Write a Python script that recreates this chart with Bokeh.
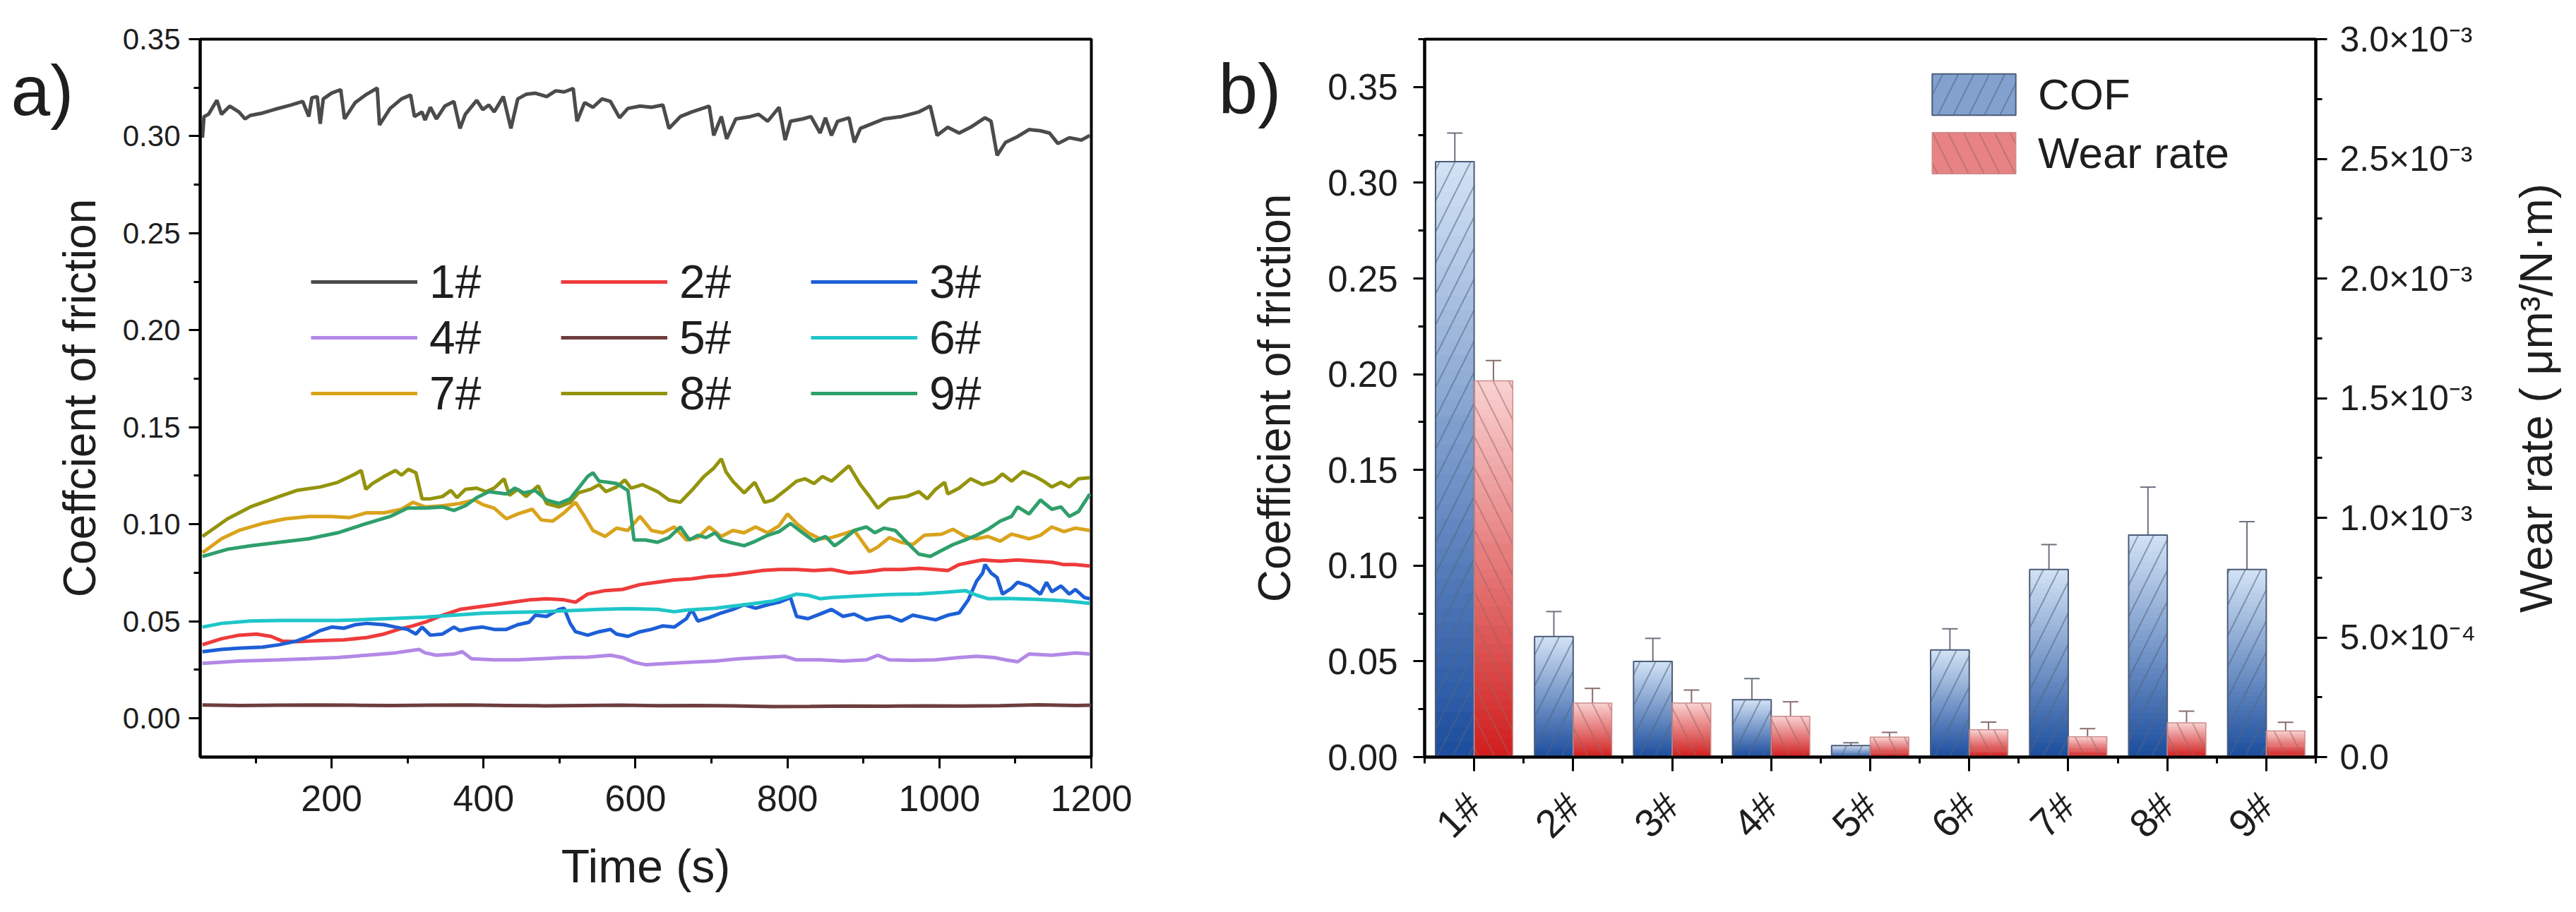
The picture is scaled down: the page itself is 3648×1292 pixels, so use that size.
import numpy as np
from bokeh.plotting import figure
from bokeh.layouts import row
from bokeh.models import (ColumnDataSource, Range1d, LinearAxis, FixedTicker,
                          NumeralTickFormatter, CustomJSTickFormatter, Legend,
                          LegendItem, Label, Whisker, TeeHead)
from bokeh.embed import file_html
from bokeh.resources import INLINE

# ---------------- panel a) : coefficient of friction vs time ----------------
t1 = [30, 32, 38, 49, 55, 66, 78, 86, 93, 109, 124, 147, 162, 170, 174, 181, 185, 189, 200, 212,
      217, 231, 246, 260, 263, 277, 292, 304, 309, 319, 323, 330, 338, 349, 361, 369, 376, 391, 399, 407,
      414, 426, 436, 445, 456, 468, 483, 495, 506, 518, 523, 533, 544, 556, 567, 579, 590, 606, 621, 636,
      644, 659, 674, 697, 703, 713, 720, 732, 751, 762, 774, 789, 797, 804, 820, 831, 843, 850, 858, 866,
      881, 888, 896, 911, 927, 950, 973, 988, 997, 1011, 1026, 1041, 1060, 1068, 1076, 1087, 1103, 1118, 1133, 1145,
      1156, 1171, 1187, 1198]
cof1 = [0.2992, 0.3101, 0.3113, 0.3185, 0.3113, 0.3155, 0.3125, 0.3089, 0.3107, 0.3119,
        0.3137, 0.3161, 0.3179, 0.3101, 0.3198, 0.3204, 0.3064, 0.3192, 0.3222, 0.3240,
        0.3089, 0.3173, 0.3216, 0.3248, 0.3058, 0.3143, 0.3192, 0.3212, 0.3101, 0.3125,
        0.3083, 0.3149, 0.3089, 0.3155, 0.3179, 0.3040, 0.3113, 0.3185, 0.3137, 0.3161,
        0.3125, 0.3204, 0.3040, 0.3192, 0.3216, 0.3222, 0.3204, 0.3234, 0.3228, 0.3246,
        0.3077, 0.3173, 0.3149, 0.3192, 0.3179, 0.3095, 0.3143, 0.3155, 0.3149, 0.3161,
        0.3040, 0.3101, 0.3125, 0.3155, 0.3004, 0.3101, 0.2986, 0.3089, 0.3101, 0.3113,
        0.3077, 0.3149, 0.2980, 0.3077, 0.3089, 0.3101, 0.3016, 0.3095, 0.3004, 0.3077,
        0.3095, 0.2968, 0.3040, 0.3064, 0.3089, 0.3101, 0.3125, 0.3155, 0.3004, 0.3046,
        0.3016, 0.3046, 0.3095, 0.3077, 0.2901, 0.2968, 0.2998, 0.3034, 0.3028, 0.3016,
        0.2962, 0.2992, 0.2980, 0.3004]

t2 = [30, 55, 78, 101, 120, 135, 154, 185, 216, 246, 269, 288, 307, 323, 346, 369, 391, 414, 437, 460,
      483, 506, 521, 537, 560, 583, 606, 629, 651, 674, 697, 720, 743, 766, 789, 812, 835, 858, 881, 904,
      927, 950, 973, 995, 1011, 1026, 1041, 1057, 1080, 1103, 1126, 1148, 1164, 1179, 1198]
cof2 = [0.0379, 0.0410, 0.0428, 0.0434, 0.0422, 0.0398, 0.0395, 0.0400, 0.0404, 0.0416,
        0.0434, 0.0458, 0.0476, 0.0495, 0.0531, 0.0561, 0.0573, 0.0585, 0.0598, 0.0610,
        0.0616, 0.0610, 0.0598, 0.0640, 0.0658, 0.0664, 0.0689, 0.0701, 0.0713, 0.0719,
        0.0731, 0.0737, 0.0749, 0.0761, 0.0767, 0.0767, 0.0761, 0.0767, 0.0749, 0.0755,
        0.0767, 0.0767, 0.0773, 0.0767, 0.0761, 0.0792, 0.0804, 0.0816, 0.0810, 0.0816,
        0.0810, 0.0804, 0.0792, 0.0792, 0.0785]

t3 = [30, 55, 78, 109, 131, 154, 170, 185, 200, 216, 231, 246, 269, 284, 300, 311, 319, 330, 346, 361,
      369, 384, 399, 414, 430, 445, 460, 468, 483, 499, 506, 514, 521, 537, 552, 567, 575, 590, 606, 621,
      636, 651, 667, 674, 682, 697, 713, 728, 743, 758, 774, 789, 804, 812, 827, 843, 858, 873, 888, 904,
      919, 934, 950, 965, 980, 995, 1011, 1026, 1038, 1049, 1057, 1060, 1068, 1076, 1083, 1095, 1103, 1118, 1133, 1141,
      1148, 1160, 1171, 1179, 1191, 1198]
cof3 = [0.0343, 0.0355, 0.0361, 0.0367, 0.0379, 0.0398, 0.0422, 0.0452, 0.0470, 0.0464,
        0.0482, 0.0489, 0.0482, 0.0470, 0.0458, 0.0434, 0.0470, 0.0428, 0.0434, 0.0470,
        0.0452, 0.0464, 0.0470, 0.0458, 0.0458, 0.0482, 0.0495, 0.0531, 0.0525, 0.0561,
        0.0567, 0.0489, 0.0446, 0.0428, 0.0446, 0.0458, 0.0434, 0.0422, 0.0446, 0.0458,
        0.0476, 0.0470, 0.0513, 0.0561, 0.0501, 0.0519, 0.0543, 0.0561, 0.0585, 0.0567,
        0.0585, 0.0598, 0.0622, 0.0525, 0.0513, 0.0537, 0.0561, 0.0525, 0.0537, 0.0507,
        0.0519, 0.0525, 0.0501, 0.0531, 0.0519, 0.0507, 0.0531, 0.0543, 0.0610, 0.0707,
        0.0749, 0.0792, 0.0749, 0.0725, 0.0640, 0.0670, 0.0701, 0.0682, 0.0640, 0.0701,
        0.0652, 0.0682, 0.0640, 0.0664, 0.0622, 0.0616]

t4 = [30, 78, 131, 170, 208, 246, 284, 315, 323, 338, 361, 372, 384, 414, 445, 476, 506, 537, 567, 583,
      598, 613, 644, 674, 705, 736, 766, 797, 812, 843, 873, 904, 919, 934, 965, 995, 1026, 1049, 1072, 1087,
      1103, 1118, 1148, 1179, 1198]
cof4 = [0.0283, 0.0295, 0.0301, 0.0307, 0.0313, 0.0325, 0.0337, 0.0355, 0.0337, 0.0325,
        0.0331, 0.0343, 0.0307, 0.0301, 0.0301, 0.0307, 0.0313, 0.0315, 0.0325, 0.0313,
        0.0289, 0.0276, 0.0283, 0.0289, 0.0295, 0.0307, 0.0313, 0.0319, 0.0301, 0.0301,
        0.0295, 0.0301, 0.0325, 0.0301, 0.0298, 0.0301, 0.0313, 0.0319, 0.0313, 0.0301,
        0.0291, 0.0331, 0.0325, 0.0337, 0.0331]

t5 = [30, 80, 130, 180, 230, 280, 330, 380, 430, 480, 530, 580, 630, 680, 730, 780, 830, 880, 930, 980,
      1030, 1080, 1130, 1180, 1200]
cof5 = [0.0068, 0.0066, 0.0067, 0.0068, 0.0067, 0.0066, 0.0067, 0.0068, 0.0066, 0.0064,
        0.0066, 0.0067, 0.0065, 0.0066, 0.0064, 0.0060, 0.0061, 0.0063, 0.0062, 0.0064,
        0.0063, 0.0065, 0.0069, 0.0066, 0.0067]

t6 = [30, 55, 93, 131, 170, 208, 246, 284, 323, 361, 399, 437, 476, 514, 552, 590, 629, 651, 667, 705,
      743, 781, 797, 812, 827, 843, 858, 896, 934, 973, 1011, 1034, 1049, 1064, 1087, 1126, 1164, 1198]
cof6 = [0.0470, 0.0489, 0.0501, 0.0504, 0.0504, 0.0504, 0.0509, 0.0515, 0.0521, 0.0531,
        0.0541, 0.0546, 0.0549, 0.0555, 0.0561, 0.0565, 0.0561, 0.0549, 0.0558, 0.0567,
        0.0585, 0.0604, 0.0622, 0.0640, 0.0634, 0.0616, 0.0622, 0.0630, 0.0638, 0.0640,
        0.0650, 0.0658, 0.0634, 0.0616, 0.0618, 0.0613, 0.0606, 0.0592]

t7 = [30, 55, 78, 109, 139, 170, 200, 223, 246, 269, 292, 307, 323, 346, 369, 388, 399, 414, 430, 445,
      464, 476, 491, 506, 521, 533, 544, 560, 575, 590, 606, 621, 636, 651, 667, 682, 697, 713, 728, 743,
      758, 774, 789, 800, 812, 827, 843, 858, 873, 888, 908, 919, 934, 950, 965, 980, 1003, 1018, 1034, 1049,
      1064, 1080, 1095, 1118, 1133, 1148, 1164, 1179, 1198]
cof7 = [0.0853, 0.0925, 0.0968, 0.1004, 0.1028, 0.1040, 0.1040, 0.1034, 0.1059, 0.1059,
        0.1077, 0.1113, 0.1089, 0.1095, 0.1107, 0.1125, 0.1101, 0.1083, 0.1028, 0.1053,
        0.1077, 0.1022, 0.1016, 0.1059, 0.1113, 0.1040, 0.0968, 0.0937, 0.0980, 0.0968,
        0.1040, 0.0968, 0.0956, 0.0986, 0.0919, 0.0931, 0.0986, 0.0937, 0.0968, 0.0956,
        0.0986, 0.0956, 0.0992, 0.1053, 0.1004, 0.0956, 0.0925, 0.0931, 0.0949, 0.0968,
        0.0859, 0.0883, 0.0931, 0.0907, 0.0895, 0.0943, 0.0949, 0.0974, 0.0937, 0.0925,
        0.0937, 0.0913, 0.0949, 0.0925, 0.0943, 0.0986, 0.0962, 0.0980, 0.0968]

t8 = [30, 63, 93, 131, 154, 185, 208, 231, 239, 245, 254, 269, 284, 292, 301, 311, 319, 330, 346, 357,
      365, 376, 391, 403, 414, 427, 434, 445, 456, 472, 483, 499, 514, 525, 541, 552, 561, 575, 586, 594,
      609, 629, 644, 659, 674, 690, 703, 713, 719, 728, 743, 757, 770, 781, 797, 812, 823, 835, 846, 858,
      881, 896, 908, 919, 934, 957, 973, 984, 995, 1007, 1011, 1026, 1041, 1057, 1072, 1083, 1095, 1110, 1126, 1137,
      1148, 1160, 1171, 1183, 1198]
cof8 = [0.0937, 0.1028, 0.1089, 0.1143, 0.1174, 0.1192, 0.1216, 0.1259, 0.1277, 0.1180,
        0.1210, 0.1246, 0.1277, 0.1253, 0.1283, 0.1265, 0.1131, 0.1131, 0.1143, 0.1174,
        0.1137, 0.1180, 0.1186, 0.1168, 0.1186, 0.1234, 0.1149, 0.1180, 0.1143, 0.1198,
        0.1107, 0.1089, 0.1113, 0.1162, 0.1180, 0.1204, 0.1168, 0.1192, 0.1228, 0.1186,
        0.1204, 0.1168, 0.1125, 0.1113, 0.1174, 0.1246, 0.1289, 0.1337, 0.1271, 0.1222,
        0.1162, 0.1216, 0.1113, 0.1125, 0.1174, 0.1222, 0.1234, 0.1210, 0.1246, 0.1222,
        0.1301, 0.1204, 0.1143, 0.1083, 0.1131, 0.1143, 0.1168, 0.1131, 0.1180, 0.1216,
        0.1156, 0.1186, 0.1234, 0.1204, 0.1222, 0.1259, 0.1222, 0.1271, 0.1246, 0.1222,
        0.1192, 0.1216, 0.1192, 0.1234, 0.1240]

t9 = [30, 63, 93, 131, 170, 208, 246, 277, 300, 323, 346, 361, 376, 391, 407, 430, 441, 453, 468, 483,
      499, 514, 525, 537, 544, 552, 564, 575, 590, 598, 613, 629, 644, 659, 671, 682, 693, 705, 713, 724,
      743, 758, 774, 789, 804, 820, 835, 850, 862, 873, 888, 904, 915, 927, 942, 957, 973, 988, 1003, 1018,
      1034, 1049, 1064, 1080, 1095, 1103, 1118, 1133, 1148, 1160, 1171, 1183, 1198]
cof9 = [0.0834, 0.0871, 0.0889, 0.0907, 0.0925, 0.0956, 0.1004, 0.1040, 0.1083, 0.1083,
        0.1089, 0.1071, 0.1095, 0.1137, 0.1168, 0.1156, 0.1186, 0.1162, 0.1174, 0.1125,
        0.1107, 0.1131, 0.1186, 0.1246, 0.1265, 0.1222, 0.1216, 0.1210, 0.1174, 0.0919,
        0.0919, 0.0907, 0.0931, 0.0986, 0.0919, 0.0943, 0.0931, 0.0956, 0.0919, 0.0907,
        0.0889, 0.0913, 0.0943, 0.0962, 0.1004, 0.0956, 0.0913, 0.0937, 0.0889, 0.0919,
        0.0968, 0.0986, 0.0956, 0.0980, 0.0968, 0.0907, 0.0846, 0.0834, 0.0865, 0.0895,
        0.0919, 0.0943, 0.0974, 0.1016, 0.1040, 0.1089, 0.1053, 0.1125, 0.1077, 0.1089,
        0.1040, 0.1065, 0.1156]

sample_names = ["1#", "2#", "3#", "4#", "5#", "6#", "7#", "8#", "9#"]
line_times = [t1, t2, t3, t4, t5, t6, t7, t8, t9]
line_cofs = [cof1, cof2, cof3, cof4, cof5, cof6, cof7, cof8, cof9]
line_colors = ["#4b4b4b", "#ee3b3b", "#1d5fd6", "#b388e6", "#6e3d3d",
               "#1fc6c8", "#d9a31c", "#94940e", "#2f9f6c"]

# ---------------- panel b) : mean COF and wear rate ----------------
cof_mean = [0.311, 0.063, 0.050, 0.030, 0.006, 0.056, 0.098, 0.116, 0.098]
cof_err = [0.015, 0.013, 0.012, 0.011, 0.0015, 0.011, 0.013, 0.025, 0.025]
wear_mean = [1.572e-3, 2.26e-4, 2.26e-4, 1.70e-4, 8.3e-5, 1.14e-4, 8.5e-5, 1.43e-4, 1.09e-4]
wear_err = [8.5e-5, 6.1e-5, 5.4e-5, 6.1e-5, 2.0e-5, 3.2e-5, 3.4e-5, 4.9e-5, 3.6e-5]

time_ticks = [200, 400, 600, 800, 1000, 1200]
cof_ticks = [0.0, 0.05, 0.10, 0.15, 0.20, 0.25, 0.30, 0.35]
wear_ticks = [0.0, 0.0005, 0.001, 0.0015, 0.002, 0.0025, 0.003]
wear_tick_labels = ["0.0", "5.0×10⁻⁴", "1.0×10⁻³", "1.5×10⁻³", "2.0×10⁻³",
                    "2.5×10⁻³", "3.0×10⁻³"]

FONT = "Liberation Sans"
NARROW = "'Liberation Sans Narrow', 'Liberation Sans'"
TXT = "#1e1e1e"


def style_axis(ax, size, font=FONT):
    ax.axis_line_width = 4
    ax.axis_line_color = "black"
    ax.major_tick_line_width = 3
    ax.minor_tick_line_width = 3
    ax.major_tick_in = 0
    ax.major_tick_out = 16
    ax.minor_tick_in = 0
    ax.minor_tick_out = 9
    ax.major_label_text_font = font
    ax.major_label_text_font_size = size
    ax.major_label_text_color = TXT
    ax.axis_label_text_font = FONT
    ax.axis_label_text_font_style = "normal"
    ax.axis_label_text_color = TXT


def frame_style(p):
    p.xgrid.visible = False
    p.ygrid.visible = False
    p.outline_line_color = "black"
    p.outline_line_width = 4
    p.outline_line_alpha = 1
    p.background_fill_color = "white"
    p.border_fill_color = "white"


def panel_tag(text, x, y):
    return Label(x=x, y=y, x_units="screen", y_units="screen", text=text,
                 text_font=FONT, text_font_size="100px", text_color=TXT,
                 text_baseline="alphabetic")


# ---------------- figure a ----------------
p1 = figure(width=1657, height=1276, x_range=Range1d(27, 1200), y_range=Range1d(-0.02, 0.35),
            output_backend="svg", toolbar_location=None,
            min_border_left=283, min_border_right=112, min_border_top=55, min_border_bottom=204)
frame_style(p1)

items = []
for name, tt, vv, col in zip(sample_names, line_times, line_cofs, line_colors):
    src = ColumnDataSource(dict(t=tt, cof=vv))
    r = p1.line("t", "cof", source=src, line_color=col, line_width=5)
    items.append(LegendItem(label=name, renderers=[r]))

p1.xaxis.ticker = FixedTicker(ticks=time_ticks, minor_ticks=list(range(100, 1200, 100)))
p1.yaxis.ticker = FixedTicker(ticks=cof_ticks, minor_ticks=list(np.round(np.arange(0.025, 0.35, 0.05), 3)))
p1.yaxis.formatter = NumeralTickFormatter(format="0.00")
style_axis(p1.xaxis[0], "52px", NARROW)
style_axis(p1.yaxis[0], "42px")
p1.xaxis.axis_label = "Time (s)"
p1.xaxis.axis_label_text_font_size = "66px"
p1.xaxis.major_label_standoff = 24
p1.xaxis.axis_label_standoff = 38
p1.yaxis.axis_label = "Coeffcient of friction"
p1.yaxis.axis_label_text_font_size = "64px"
p1.yaxis.major_label_standoff = 12
p1.yaxis.axis_label_standoff = 22

leg1 = Legend(items=items, orientation="horizontal", ncols=3, location=(157, 477),
              glyph_width=151, glyph_height=50, label_height=50, label_width=183,
              label_standoff=17, spacing=3, padding=0, margin=0,
              label_text_font=FONT, label_text_font_size="66px", label_text_color=TXT,
              border_line_alpha=0, background_fill_alpha=0)
p1.add_layout(leg1)
# panel tag in the (empty) right side panel so that it is not clipped to the frame
p1.add_layout(panel_tag("a)", -1530, 945), "right")

# ---------------- figure b ----------------
BAR_W = 0.39
N_SLICES = 40
xs = np.arange(1, len(sample_names) + 1)
x_cof = xs - BAR_W / 2
x_wear = xs + BAR_W / 2


def hex_rgb(h):
    return np.array([int(h[i:i + 2], 16) for i in (1, 3, 5)], float)


def gradient_source(centers, heights, light, dark):
    # vertical colour ramp for each bar, drawn as thin stacked slices
    lo, hi = hex_rgb(dark), hex_rgb(light)
    d = dict(left=[], right=[], bottom=[], top=[], color=[])
    for c, v in zip(centers, heights):
        for k in range(N_SLICES):
            f = (k + 0.5) / N_SLICES
            r, g, b = (lo + (hi - lo) * f).round().astype(int)
            d["left"].append(c - BAR_W / 2)
            d["right"].append(c + BAR_W / 2)
            d["bottom"].append(v * k / N_SLICES)
            d["top"].append(v * min(1.0, (k + 1.6) / N_SLICES))
            d["color"].append("#%02x%02x%02x" % (r, g, b))
    # put a mid-tone slice first so the legend swatch picks it up
    mid = int(N_SLICES * 0.55)
    d = {key: val[mid:] + val[:mid] for key, val in d.items()}
    return ColumnDataSource(d)


p2 = figure(width=1865, height=1276, x_range=Range1d(0.5, 9.5), y_range=Range1d(0, 0.375),
            output_backend="svg", toolbar_location=None,
            min_border_left=360, min_border_right=243, min_border_top=55, min_border_bottom=202)
frame_style(p2)
p2.extra_y_ranges = {"wear": Range1d(0, 0.003)}

cof_grad = p2.quad(left="left", right="right", bottom="bottom", top="top", fill_color="color",
                   line_color=None, source=gradient_source(x_cof, cof_mean, "#d3e3f5", "#1b4d9e"))
wear_grad = p2.quad(left="left", right="right", bottom="bottom", top="top", fill_color="color",
                    line_color=None, y_range_name="wear",
                    source=gradient_source(x_wear, wear_mean, "#f9d2d2", "#d11d1d"))

cof_hatch = p2.vbar(x=x_cof, width=BAR_W, top=cof_mean, bottom=0, fill_alpha=0,
                    hatch_pattern="right_diagonal_line", hatch_color="#52657f", hatch_alpha=0.55,
                    hatch_scale=44, hatch_weight=2, line_color="#4c5c78", line_width=2)
wear_hatch = p2.vbar(x=x_wear, width=BAR_W, top=wear_mean, bottom=0, fill_alpha=0,
                     y_range_name="wear",
                     hatch_pattern="left_diagonal_line", hatch_color="#9a6262", hatch_alpha=0.5,
                     hatch_scale=44, hatch_weight=2, line_color="#cc8c8c", line_width=1.5)

cof_src = ColumnDataSource(dict(x=x_cof, up=np.array(cof_mean) + np.array(cof_err),
                                lo=np.array(cof_mean) - np.array(cof_err)))
wear_src = ColumnDataSource(dict(x=x_wear, up=np.array(wear_mean) + np.array(wear_err),
                                 lo=np.array(wear_mean) - np.array(wear_err)))
for src, col, yr in [(cof_src, "#6d7280", "default"), (wear_src, "#8a6c6c", "wear")]:
    w = Whisker(source=src, base="x", upper="up", lower="lo", dimension="height",
                line_color=col, line_width=2, y_range_name=yr,
                upper_head=TeeHead(size=22, line_color=col, line_width=2),
                lower_head=TeeHead(size=22, line_color=col, line_width=2))
    p2.add_layout(w)

p2.xaxis.ticker = FixedTicker(ticks=list(xs), minor_ticks=list(np.arange(0.5, 10, 1.0)))
p2.xaxis.major_label_overrides = {int(i): s for i, s in zip(xs, sample_names)}
p2.xaxis.major_label_orientation = np.pi / 4
style_axis(p2.xaxis[0], "56px")
p2.xaxis.major_tick_out = 20
p2.xaxis.major_label_standoff = 40

p2.yaxis.ticker = FixedTicker(ticks=cof_ticks, minor_ticks=list(np.round(np.arange(0.025, 0.38, 0.05), 3)))
p2.yaxis.formatter = NumeralTickFormatter(format="0.00")
style_axis(p2.yaxis[0], "51px")
p2.yaxis.axis_label = "Coefficient of friction"
p2.yaxis.axis_label_text_font_size = "64px"
p2.yaxis.major_label_standoff = 22
p2.yaxis.axis_label_standoff = 36

ax_r = LinearAxis(y_range_name="wear")
ax_r.ticker = FixedTicker(ticks=wear_ticks, minor_ticks=list(np.arange(0.00025, 0.003, 0.0005)))
ax_r.formatter = CustomJSTickFormatter(args=dict(labels=wear_tick_labels),
                                       code="return labels[Math.round(tick / 0.0005)];")
style_axis(ax_r, "50px")
ax_r.major_label_standoff = 18
p2.add_layout(ax_r, "right")

leg2 = Legend(items=[LegendItem(label="COF", renderers=[cof_grad, cof_hatch]),
                     LegendItem(label="Wear rate", renderers=[wear_grad, wear_hatch])],
              location=(704, 819), glyph_width=148, glyph_height=73, label_height=73,
              label_standoff=17, spacing=10, padding=0, margin=0,
              label_text_font=FONT, label_text_font_size="62px", label_text_color=TXT,
              border_line_alpha=0, background_fill_alpha=0)
p2.add_layout(leg2)
p2.add_layout(panel_tag("b)", 48, 947), "left")

# ---------------- narrow strip carrying the right-hand axis title ----------------
# (a left axis reads bottom-to-top, as the wear-rate title does in the original)
p3 = figure(width=110, height=1276, x_range=Range1d(0, 1), y_range=Range1d(0, 1),
            output_backend="svg", toolbar_location=None,
            min_border_left=105, min_border_right=0, min_border_top=55, min_border_bottom=202)
p3.xgrid.visible = False
p3.ygrid.visible = False
p3.outline_line_color = None
p3.background_fill_color = "white"
p3.border_fill_color = "white"
p3.xaxis.visible = False
p3.yaxis.ticker = FixedTicker(ticks=[])
p3.yaxis.axis_line_color = None
p3.yaxis.major_tick_out = 0
p3.yaxis.minor_tick_out = 0
p3.yaxis.major_tick_in = 0
p3.yaxis.minor_tick_in = 0
p3.yaxis.major_label_standoff = 0
p3.yaxis.axis_label = "Wear rate ( μm³/N·m)"
p3.yaxis.axis_label_text_font = FONT
p3.yaxis.axis_label_text_font_style = "normal"
p3.yaxis.axis_label_text_font_size = "64px"
p3.yaxis.axis_label_text_color = TXT
p3.yaxis.axis_label_standoff = 0

layout = row(p1, p2, p3)
open("out.html", "w").write(file_html(layout, INLINE))
